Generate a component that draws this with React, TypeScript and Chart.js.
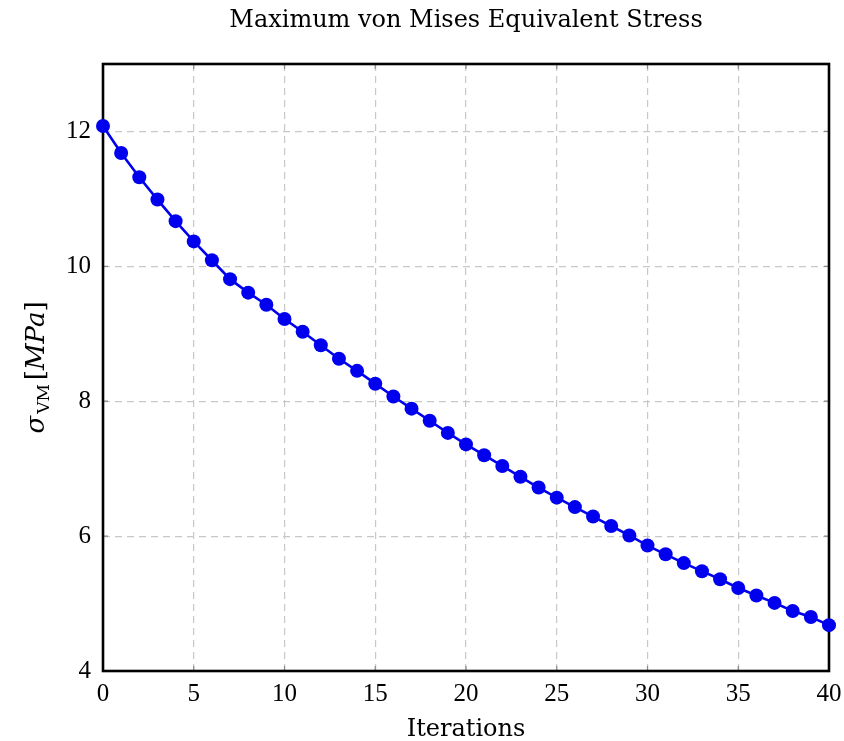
import React, { useEffect, useRef } from "react";
import { Chart, registerables } from "chart.js";

Chart.register(...registerables);

const titleText = "Maximum von Mises Equivalent Stress";
const xAxisTitle = "Iterations";

const iterations = [
  0, 1, 2, 3, 4, 5, 6, 7, 8, 9, 10, 11, 12, 13, 14, 15, 16, 17, 18, 19, 20,
  21, 22, 23, 24, 25, 26, 27, 28, 29, 30, 31, 32, 33, 34, 35, 36, 37, 38, 39, 40,
];

const stress = [
  12.08, 11.68, 11.32, 10.99, 10.67, 10.37, 10.09, 9.81, 9.61, 9.43, 9.22,
  9.03, 8.83, 8.63, 8.45, 8.26, 8.07, 7.89, 7.71, 7.53, 7.36, 7.2, 7.04, 6.88,
  6.72, 6.57, 6.43, 6.29, 6.15, 6.01, 5.86, 5.73, 5.6, 5.48, 5.36, 5.23, 5.12,
  5.01, 4.89, 4.8, 4.68,
];

const xTicks = [0, 5, 10, 15, 20, 25, 30, 35, 40];
const yTicks = [4, 6, 8, 10, 12];

const BLUE = "#0000ee";
const WORD_FONT = '"DejaVu Serif", serif';
const NUM_FONT = '"Liberation Serif", serif';

const framePlugin = {
  id: "frame",
  beforeDatasetsDraw(chart: any) {
    const { ctx, chartArea } = chart;
    const { left, right, top, bottom } = chartArea;
    const xs = chart.scales.x;
    const ys = chart.scales.y;
    ctx.save();
    ctx.strokeStyle = "#8a8a8a";
    ctx.lineWidth = 1.2;
    const tl = 5;
    ctx.beginPath();
    xTicks.forEach((v) => {
      const px = xs.getPixelForValue(v);
      ctx.moveTo(px, bottom);
      ctx.lineTo(px, bottom - tl);
      ctx.moveTo(px, top);
      ctx.lineTo(px, top + tl);
    });
    yTicks.forEach((v) => {
      const py = ys.getPixelForValue(v);
      ctx.moveTo(left, py);
      ctx.lineTo(left + tl, py);
      ctx.moveTo(right, py);
      ctx.lineTo(right - tl, py);
    });
    ctx.stroke();
    ctx.strokeStyle = "#000";
    ctx.lineWidth = 2.6;
    ctx.strokeRect(left, top, right - left, bottom - top);
    ctx.restore();
  },
};

const textPlugin = {
  id: "texts",
  afterDraw(chart: any) {
    const { ctx, chartArea } = chart;
    // chart title, centred over the plot area
    ctx.save();
    ctx.fillStyle = "#000";
    ctx.font = `24px ${WORD_FONT}`;
    ctx.textAlign = "center";
    ctx.textBaseline = "middle";
    ctx.fillText(titleText, (chartArea.left + chartArea.right) / 2, 21);
    ctx.restore();

    // y axis title with subscript
    const cy = (chartArea.top + chartArea.bottom) / 2;
    const cx = 36;
    const parts = [
      { t: "σ", font: `italic 26px ${WORD_FONT}`, dy: 0 },
      { t: "VM", font: `17px ${WORD_FONT}`, dy: 5 },
      { t: "[", font: `26px ${WORD_FONT}`, dy: 0 },
      { t: "MPa", font: `italic 26px ${WORD_FONT}`, dy: 0 },
      { t: "]", font: `26px ${WORD_FONT}`, dy: 0 },
    ];
    ctx.save();
    ctx.translate(cx, cy);
    ctx.rotate(-Math.PI / 2);
    ctx.fillStyle = "#000";
    ctx.textBaseline = "alphabetic";
    ctx.textAlign = "left";
    const widths = parts.map((p) => {
      ctx.font = p.font;
      return ctx.measureText(p.t).width;
    });
    const total = widths.reduce((a, b) => a + b, 0) + 6;
    let x = -total / 2;
    parts.forEach((p, i) => {
      ctx.font = p.font;
      ctx.fillText(p.t, x, 8 + p.dy);
      x += widths[i] + (i === 1 ? 4 : i === 0 ? 2 : 0);
    });
    ctx.restore();
  },
};

export default function App() {
  const canvasRef = useRef<HTMLCanvasElement | null>(null);

  useEffect(() => {
    document.body.style.margin = "0";
    document.body.style.overflow = "hidden";
    const canvas = canvasRef.current;
    if (!canvas) return;
    const chart = new Chart(canvas, {
      type: "line",
      data: {
        datasets: [
          {
            data: iterations.map((x, i) => ({ x, y: stress[i] })),
            borderColor: BLUE,
            backgroundColor: BLUE,
            borderWidth: 2.6,
            pointRadius: 7,
            pointBorderWidth: 0,
            pointBackgroundColor: BLUE,
            tension: 0,
            clip: false as any,
          },
        ],
      },
      plugins: [framePlugin, textPlugin],
      options: {
        animation: false,
        responsive: false,
        devicePixelRatio: 1,
        layout: { padding: { left: 0, right: 15, top: 64, bottom: 0 } },
        plugins: {
          legend: { display: false },
          tooltip: { enabled: false },
          title: { display: false },
        },
        scales: {
          x: {
            type: "linear",
            min: 0,
            max: 40,
            afterBuildTicks: (scale: any) => {
              scale.ticks = xTicks.map((v) => ({ value: v }));
            },
            afterFit: (scale: any) => {
              scale.height = 70;
              scale.paddingLeft = 0;
              scale.paddingRight = 0;
            },
            ticks: {
              color: "#000",
              padding: 8,
              font: { family: NUM_FONT, size: 25 },
              maxRotation: 0,
            },
            grid: { color: "#c8c8c8", lineWidth: 1.2, drawTicks: false },
            border: { display: false, dash: [7, 5] },
            title: {
              display: true,
              text: xAxisTitle,
              color: "#000",
              font: { family: WORD_FONT, size: 24, weight: "normal" },
              padding: { top: 0, bottom: -3 },
            },
          },
          y: {
            type: "linear",
            min: 4,
            max: 13,
            afterBuildTicks: (scale: any) => {
              scale.ticks = yTicks.map((v) => ({ value: v }));
            },
            afterFit: (scale: any) => {
              scale.width = 103;
              scale.paddingTop = 0;
              scale.paddingBottom = 0;
            },
            ticks: {
              color: "#000",
              padding: 12,
              font: { family: NUM_FONT, size: 25 },
            },
            grid: { color: "#c8c8c8", lineWidth: 1.2, drawTicks: false },
            border: { display: false, dash: [7, 5] },
          },
        },
      },
    });
    return () => chart.destroy();
  }, []);

  return (
    <div style={{ width: 844, height: 741 }}>
      <canvas ref={canvasRef} width={844} height={741} style={{ display: "block" }} />
    </div>
  );
}
